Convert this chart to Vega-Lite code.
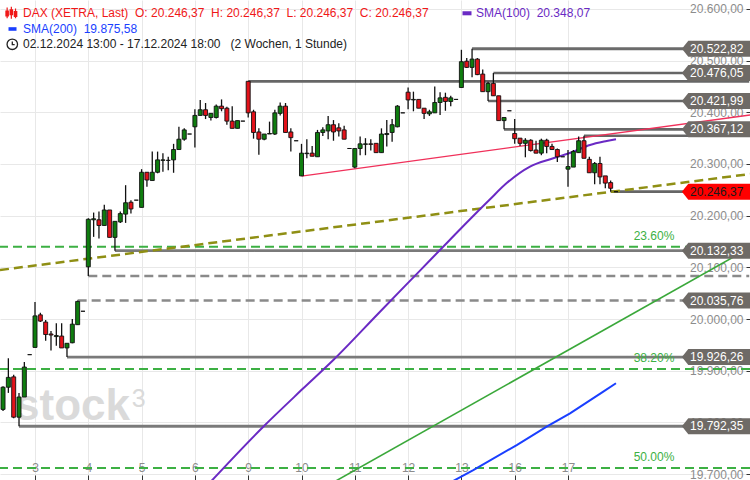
{
"$schema": "https://vega.github.io/schema/vega-lite/v6.json",
"width": 750, "height": 480, "padding": 0, "autosize": {"type": "none"},
"background": "white",
"config": {
  "view": {"stroke": null},
  "font": "Liberation Sans",
  "locale": {"number": {"decimal": ",", "thousands": ".", "grouping": [3], "currency": ["", " €"]}}
},
"datasets": {
  "candles": [
    {"i":4,"o":19825,"h":19870,"l":19822,"c":19868},
    {"i":5,"o":19868,"h":19924,"l":19857,"c":19887},
    {"i":6,"o":19888,"h":19892,"l":19808,"c":19810},
    {"i":7,"o":19810,"h":19857,"l":19792.35,"c":19849},
    {"i":8,"o":19849,"h":19917,"l":19849,"c":19907},
    {"i":9,"o":19931,"h":19931,"l":19931,"c":19931},
    {"i":10,"o":19945,"h":20033,"l":19945,"c":20006},
    {"i":11,"o":20008,"h":20012,"l":19994,"c":19996},
    {"i":12,"o":19994,"h":19998,"l":19958,"c":19970},
    {"i":13,"o":19971,"h":19977,"l":19939,"c":19969},
    {"i":14,"o":19966,"h":19992,"l":19948,"c":19968},
    {"i":15,"o":19967,"h":19992,"l":19944,"c":19944},
    {"i":16,"o":19944,"h":19953,"l":19926.26,"c":19953},
    {"i":17,"o":19954,"h":20000,"l":19953,"c":19990},
    {"i":18,"o":19989,"h":20035.76,"l":19989,"c":20034},
    {"i":19,"o":20015,"h":20015,"l":20015,"c":20015},
    {"i":20,"o":20101,"h":20195,"l":20083,"c":20193},
    {"i":21,"o":20192,"h":20206,"l":20159,"c":20194},
    {"i":22,"o":20192,"h":20208,"l":20156,"c":20181},
    {"i":23,"o":20181,"h":20221,"l":20181,"c":20211},
    {"i":24,"o":20211,"h":20211,"l":20158,"c":20158},
    {"i":25,"o":20158,"h":20189,"l":20132.33,"c":20189},
    {"i":26,"o":20188,"h":20208,"l":20186,"c":20204},
    {"i":27,"o":20203,"h":20259,"l":20186,"c":20225},
    {"i":28,"o":20226,"h":20230,"l":20204,"c":20213},
    {"i":29,"o":20230,"h":20230,"l":20230,"c":20230},
    {"i":30,"o":20216,"h":20290,"l":20216,"c":20284},
    {"i":31,"o":20284,"h":20284,"l":20256,"c":20269},
    {"i":32,"o":20268,"h":20324,"l":20268,"c":20284},
    {"i":33,"o":20284,"h":20324,"l":20282,"c":20308},
    {"i":34,"o":20307,"h":20321,"l":20285,"c":20308},
    {"i":35,"o":20307,"h":20314,"l":20288,"c":20307},
    {"i":36,"o":20308,"h":20339,"l":20283,"c":20328},
    {"i":37,"o":20328,"h":20372,"l":20328,"c":20348},
    {"i":38,"o":20348,"h":20369,"l":20345,"c":20366},
    {"i":39,"o":20358,"h":20358,"l":20358,"c":20358},
    {"i":40,"o":20372,"h":20406,"l":20332,"c":20394},
    {"i":41,"o":20394,"h":20424,"l":20394,"c":20405},
    {"i":42,"o":20405,"h":20418,"l":20387,"c":20394},
    {"i":43,"o":20390,"h":20398,"l":20384,"c":20398},
    {"i":44,"o":20390,"h":20415,"l":20388,"c":20412},
    {"i":45,"o":20412,"h":20425,"l":20402,"c":20407},
    {"i":46,"o":20408,"h":20411,"l":20376,"c":20383},
    {"i":47,"o":20383,"h":20412,"l":20369,"c":20369},
    {"i":48,"o":20369,"h":20384,"l":20369,"c":20384},
    {"i":49,"o":20383,"h":20383,"l":20383,"c":20383},
    {"i":50,"o":20460,"h":20460,"l":20390,"c":20399},
    {"i":51,"o":20401,"h":20405,"l":20349,"c":20361},
    {"i":52,"o":20362,"h":20369,"l":20318,"c":20348},
    {"i":53,"o":20348,"h":20358,"l":20346,"c":20358},
    {"i":54,"o":20358,"h":20382,"l":20358,"c":20359},
    {"i":55,"o":20358,"h":20405,"l":20356,"c":20399},
    {"i":56,"o":20398,"h":20419,"l":20394,"c":20412},
    {"i":57,"o":20412,"h":20418,"l":20361,"c":20361},
    {"i":58,"o":20362,"h":20369,"l":20324,"c":20351},
    {"i":59,"o":20345,"h":20345,"l":20345,"c":20345},
    {"i":60,"o":20277,"h":20339,"l":20276.7,"c":20321},
    {"i":61,"o":20320,"h":20348,"l":20311,"c":20321},
    {"i":62,"o":20321,"h":20335,"l":20315,"c":20315},
    {"i":63,"o":20314,"h":20366,"l":20314,"c":20361},
    {"i":64,"o":20361,"h":20371,"l":20354,"c":20366},
    {"i":65,"o":20364,"h":20393,"l":20348,"c":20376},
    {"i":66,"o":20376,"h":20385,"l":20345,"c":20362},
    {"i":67,"o":20370,"h":20379,"l":20353,"c":20364},
    {"i":68,"o":20366,"h":20374,"l":20348,"c":20348},
    {"i":69,"o":20330,"h":20330,"l":20330,"c":20330},
    {"i":70,"o":20294,"h":20330,"l":20292,"c":20330},
    {"i":71,"o":20330,"h":20353,"l":20317,"c":20339},
    {"i":72,"o":20338,"h":20350,"l":20317,"c":20339},
    {"i":73,"o":20339,"h":20348,"l":20326,"c":20338},
    {"i":74,"o":20340,"h":20340,"l":20322,"c":20322},
    {"i":75,"o":20322,"h":20369,"l":20322,"c":20358},
    {"i":76,"o":20357,"h":20385,"l":20334,"c":20359},
    {"i":77,"o":20361,"h":20387,"l":20343,"c":20376},
    {"i":78,"o":20372,"h":20414,"l":20371,"c":20412},
    {"i":79,"o":20399,"h":20399,"l":20399,"c":20399},
    {"i":80,"o":20439,"h":20448,"l":20406,"c":20424},
    {"i":81,"o":20424,"h":20440,"l":20402,"c":20425},
    {"i":82,"o":20425,"h":20425,"l":20408,"c":20408},
    {"i":83,"o":20408,"h":20408,"l":20387,"c":20398},
    {"i":84,"o":20397,"h":20405,"l":20393,"c":20401},
    {"i":85,"o":20399,"h":20450,"l":20399,"c":20419},
    {"i":86,"o":20419,"h":20439,"l":20395,"c":20428},
    {"i":87,"o":20429,"h":20438,"l":20403,"c":20421},
    {"i":88,"o":20421,"h":20432,"l":20412,"c":20428},
    {"i":89,"o":20425,"h":20425,"l":20425,"c":20425},
    {"i":90,"o":20448,"h":20521,"l":20448,"c":20498},
    {"i":91,"o":20499,"h":20505,"l":20486,"c":20487},
    {"i":92,"o":20487,"h":20522.82,"l":20468,"c":20503},
    {"i":93,"o":20503,"h":20505,"l":20472,"c":20473},
    {"i":94,"o":20474,"h":20483,"l":20440,"c":20440},
    {"i":95,"o":20440,"h":20459,"l":20421.99,"c":20456},
    {"i":96,"o":20456,"h":20476.05,"l":20432,"c":20432},
    {"i":97,"o":20432,"h":20432,"l":20384,"c":20384},
    {"i":98,"o":20384,"h":20390,"l":20367.12,"c":20390},
    {"i":99,"o":20403,"h":20403,"l":20403,"c":20403},
    {"i":100,"o":20359,"h":20387,"l":20339,"c":20349},
    {"i":101,"o":20350,"h":20350,"l":20335,"c":20340},
    {"i":102,"o":20340,"h":20350,"l":20313,"c":20346},
    {"i":103,"o":20346,"h":20348,"l":20324,"c":20326},
    {"i":104,"o":20327,"h":20345,"l":20321,"c":20321},
    {"i":105,"o":20321,"h":20349,"l":20317,"c":20346},
    {"i":106,"o":20346,"h":20349,"l":20321,"c":20334},
    {"i":107,"o":20334,"h":20339,"l":20327,"c":20328},
    {"i":108,"o":20328,"h":20330,"l":20304,"c":20314},
    {"i":109,"o":20314,"h":20314,"l":20314,"c":20314},
    {"i":110,"o":20290,"h":20327,"l":20256,"c":20295},
    {"i":111,"o":20294,"h":20327,"l":20294,"c":20324},
    {"i":112,"o":20322,"h":20353,"l":20322,"c":20345},
    {"i":113,"o":20345,"h":20354.7,"l":20311,"c":20311},
    {"i":114,"o":20309,"h":20314,"l":20283,"c":20283},
    {"i":115,"o":20283,"h":20304,"l":20261,"c":20301},
    {"i":116,"o":20301,"h":20314,"l":20261,"c":20275},
    {"i":117,"o":20277,"h":20277,"l":20253,"c":20263},
    {"i":118,"o":20264,"h":20268,"l":20246.37,"c":20253},
    {"i":119,"o":20246.37,"h":20246.37,"l":20246.37,"c":20246.37}
  ],
  "levels": [
    {"p":20522.82,"s":92,"kind":"thick","tag":"level"},
    {"p":20476.05,"s":96,"kind":"thin","tag":"level"},
    {"p":20460.0,"s":50,"kind":"thin","tag":"none"},
    {"p":20421.99,"s":95,"kind":"thin","tag":"level"},
    {"p":20367.12,"s":98,"kind":"thin","tag":"level"},
    {"p":20354.7,"s":113,"kind":"thin","tag":"none"},
    {"p":20246.37,"s":118,"kind":"thin","tag":"last"},
    {"p":20132.33,"s":25,"kind":"medium","tag":"level"},
    {"p":20083.0,"s":20,"kind":"dashed","tag":"none"},
    {"p":20035.76,"s":18,"kind":"dashed","tag":"level"},
    {"p":19926.26,"s":16,"kind":"medium","tag":"level"},
    {"p":19792.35,"s":7,"kind":"medium","tag":"level"}
  ],
  "fibs": [
    {"p":20139.9,"label":"23.60%"},
    {"p":19903.0,"label":"38.20%"},
    {"p":19711.6,"label":"50.00%"}
  ],
  "sma100": [
    {"i":41.52,"v":19669.0},{"i":52.83,"v":19791.5},{"i":60.34,"v":19865.8},{"i":65.97,"v":19920.6},
    {"i":74.73,"v":20014.1},{"i":82.23,"v":20093.7},{"i":87.86,"v":20153.5},{"i":91.61,"v":20193.1},
    {"i":95.23,"v":20230.3},{"i":98.5,"v":20263.0},{"i":102.87,"v":20295.0},{"i":107.24,"v":20311.0},
    {"i":110.99,"v":20323.8},{"i":114.12,"v":20336.7},{"i":117.26,"v":20344.5},{"i":119.0,"v":20348.07}
  ],
  "sma200": [
    {"i":85.98,"v":19672.5},{"i":92.23,"v":19707.7},{"i":100.38,"v":19756.1},{"i":106.0,"v":19791.5},
    {"i":110.38,"v":19817.5},{"i":116.62,"v":19859.3},{"i":119.0,"v":19875.58}
  ],
  "olive": [{"i":3.43,"v":20094.8},{"i":144.15,"v":20280.6}],
  "redline": [{"i":60.0,"v":20276.7},{"i":144.15,"v":20394.8}],
  "greenline": [{"i":59.72,"v":19647.5},{"i":144.15,"v":20138.0}]
},
"layer": [
  {
    "data": {"values": [{}]},
    "mark": {"type": "text", "text": "stock", "fontSize": 44, "fontWeight": "bold", "color": "#dadada", "align": "left", "baseline": "alphabetic"},
    "encoding": {
      "x": {"datum": 6.25, "type": "quantitative",
        "scale": {"domain": [3.433, 144.146], "nice": false, "zero": false, "padding": 0},
        "axis": {"orient": "top", "offset": -480, "values": [10,20,30,40,50,60,70,80,90,100,110],
          "labelExpr": "['2','3','4','5','6','9','10','11','12','13','16','17'][datum.value/10]",
          "tickSize": 5, "labelPadding": 1, "labelColor": "#8c8c8c", "labelFontSize": 12, "labelFont": "Liberation Sans",
          "tickColor": "#333333", "domain": false, "grid": true, "gridColor": "#e8e8e8", "title": null, "labelOverlap": false, "labelFlush": false}},
      "y": {"datum": 19804.5, "type": "quantitative",
        "scale": {"domain": [19688.4, 20617.4], "nice": false, "zero": false, "padding": 0},
        "axis": {"orient": "left", "offset": -750, "values": [19700,19800,19900,20000,20100,20200,20300,20400,20500,20600],
          "format": ",.2f", "tickSize": 4, "labelPadding": 3, "labelColor": "#8c8c8c", "labelFontSize": 12, "labelFont": "Liberation Sans",
          "tickColor": "#333333", "domain": false, "grid": true, "gridColor": "#e8e8e8", "title": null, "labelOverlap": false, "labelFlush": false, "labelBound": false}}
    }
  },
  {
    "data": {"values": [{}]},
    "mark": {"type": "text", "text": "3", "fontSize": 25, "color": "#dadada", "align": "left", "baseline": "alphabetic"},
    "encoding": {"x": {"datum": 28.14, "type": "quantitative"}, "y": {"datum": 19830.2, "type": "quantitative"}}
  },
  {
    "data": {"name": "fibs"},
    "mark": {"type": "rule", "color": "#3cb043", "strokeWidth": 2, "strokeDash": [9, 5]},
    "encoding": {"y": {"field": "p", "type": "quantitative", "title": null}}
  },
  {
    "data": {"name": "levels"},
    "mark": {"type": "rule"},
    "encoding": {
      "x": {"field": "s", "type": "quantitative", "title": null},
      "x2": {"datum": 144},
      "y": {"field": "p", "type": "quantitative", "title": null},
      "strokeWidth": {"field": "kind", "type": "nominal", "legend": null, "scale": {"domain": ["thick","medium","thin","dashed"], "range": [3, 2.5, 1, 2.5]}},
      "strokeDash": {"field": "kind", "type": "nominal", "legend": null, "scale": {"domain": ["thick","medium","thin","dashed"], "range": [[1,0],[1,0],[1,0],[9,5]]}},
      "color": {"field": "kind", "type": "nominal", "legend": null, "scale": {"domain": ["thick","medium","thin","dashed"], "range": ["#6b6b6b","#7a7a7a","#666666","#8a8a8a"]}}
    }
  },
  {
    "data": {"name": "olive"},
    "mark": {"type": "line", "color": "#8f8f14", "strokeWidth": 2.5, "strokeDash": [9, 5], "clip": true},
    "encoding": {"x": {"field": "i", "type": "quantitative", "title": null}, "y": {"field": "v", "type": "quantitative", "title": null}}
  },
  {
    "data": {"name": "greenline"},
    "mark": {"type": "line", "color": "#3aa83a", "strokeWidth": 1.6, "clip": true},
    "encoding": {"x": {"field": "i", "type": "quantitative", "title": null}, "y": {"field": "v", "type": "quantitative", "title": null}}
  },
  {
    "data": {"name": "sma100"},
    "mark": {"type": "line", "color": "#6a2ac4", "strokeWidth": 2, "clip": true, "interpolate": "monotone"},
    "encoding": {"x": {"field": "i", "type": "quantitative", "title": null}, "y": {"field": "v", "type": "quantitative", "title": null}}
  },
  {
    "data": {"name": "sma200"},
    "mark": {"type": "line", "color": "#1a3fff", "strokeWidth": 2, "clip": true},
    "encoding": {"x": {"field": "i", "type": "quantitative", "title": null}, "y": {"field": "v", "type": "quantitative", "title": null}}
  },
  {
    "data": {"name": "redline"},
    "mark": {"type": "line", "color": "#f0305a", "strokeWidth": 1.3, "clip": true},
    "encoding": {"x": {"field": "i", "type": "quantitative", "title": null}, "y": {"field": "v", "type": "quantitative", "title": null}}
  },
  {
    "data": {"name": "candles"},
    "mark": {"type": "rule", "color": "#111111", "strokeWidth": 1.3},
    "encoding": {
      "x": {"field": "i", "type": "quantitative", "title": null},
      "y": {"field": "l", "type": "quantitative", "title": null},
      "y2": {"field": "h"}
    }
  },
  {
    "data": {"name": "candles"},
    "mark": {"type": "bar", "size": 4, "stroke": "#111111", "strokeWidth": 0.9, "orient": "vertical"},
    "encoding": {
      "x": {"field": "i", "type": "quantitative", "title": null},
      "y": {"field": "o", "type": "quantitative", "title": null},
      "y2": {"field": "c"},
      "color": {"condition": {"test": "datum.c < datum.o", "value": "#e3121a"}, "value": "#0f7d0f"}
    }
  },
  {
    "data": {"name": "fibs"},
    "mark": {"type": "text", "color": "#3cb043", "fontSize": 12, "align": "center", "baseline": "middle", "dy": -11},
    "encoding": {
      "x": {"datum": 126.13, "type": "quantitative"},
      "y": {"field": "p", "type": "quantitative", "title": null},
      "text": {"field": "label"}
    }
  },
  {
    "data": {"name": "levels"},
    "transform": [{"filter": "datum.tag !== 'none'"}],
    "mark": {"type": "point", "shape": "M-0.8,0L0,-1L7.9,-1L7.9,1L0,1Z", "size": 256, "filled": true, "opacity": 1, "strokeWidth": 0},
    "encoding": {
      "x": {"datum": 132.57, "type": "quantitative"},
      "y": {"field": "p", "type": "quantitative", "title": null},
      "color": {"condition": {"test": "datum.tag === 'last'", "value": "#ff0000"}, "value": "#6e6a66"}
    }
  },
  {
    "data": {"name": "levels"},
    "transform": [{"filter": "datum.tag !== 'none'"}],
    "mark": {"type": "text", "fontSize": 12, "align": "left", "baseline": "middle"},
    "encoding": {
      "x": {"datum": 132.89, "type": "quantitative"},
      "y": {"field": "p", "type": "quantitative", "title": null},
      "text": {"field": "p", "type": "quantitative", "format": ",.2f"},
      "color": {"condition": {"test": "datum.tag === 'last'", "value": "#1a1a1a"}, "value": "#ffffff"}
    }
  },
  {
    "data": {"values": [{}]},
    "mark": {"type": "point", "shape": "M-0.7,-0.9V0.9M0,-1V1M0.7,-0.7V0.9M-0.9,-0.3H-0.5V0.5H-0.9ZM-0.2,-0.5H0.2V0.3H-0.2ZM0.5,-0.2H0.9V0.6H0.5Z", "size": 144, "filled": false, "color": "#f01818", "strokeWidth": 1.2, "opacity": 1},
    "encoding": {"x": {"datum": 5.56, "type": "quantitative"}, "y": {"datum": 20592.6, "type": "quantitative"}}
  },
  {
    "data": {"values": [{}]},
    "mark": {"type": "text", "text": "DAX (XETRA, Last) \u00a0O: 20.246,37 \u00a0H: 20.246,37 \u00a0L: 20.246,37 \u00a0C: 20.246,37", "fontSize": 12, "color": "#f01818", "align": "left", "baseline": "middle"},
    "encoding": {"x": {"datum": 7.75, "type": "quantitative"}, "y": {"datum": 20591.7, "type": "quantitative"}}
  },
  {
    "data": {"values": [{}]},
    "mark": {"type": "point", "shape": "M-1,-0.45H1V0.45H-1Z", "size": 81, "filled": true, "color": "#6a2ac4", "opacity": 1},
    "encoding": {"x": {"datum": 91.05, "type": "quantitative"}, "y": {"datum": 20591.7, "type": "quantitative"}}
  },
  {
    "data": {"values": [{}]},
    "mark": {"type": "text", "text": "SMA(100) \u00a020.348,07", "fontSize": 12, "color": "#6a2ac4", "align": "left", "baseline": "middle"},
    "encoding": {"x": {"datum": 92.74, "type": "quantitative"}, "y": {"datum": 20591.7, "type": "quantitative"}}
  },
  {
    "data": {"values": [{}]},
    "mark": {"type": "point", "shape": "M-1,-0.45H1V0.45H-1Z", "size": 64, "filled": true, "color": "#1a3fff", "opacity": 1},
    "encoding": {"x": {"datum": 5.78, "type": "quantitative"}, "y": {"datum": 20561.3, "type": "quantitative"}}
  },
  {
    "data": {"values": [{}]},
    "mark": {"type": "text", "text": "SMA(200) \u00a019.875,58", "fontSize": 12, "color": "#1a3fff", "align": "left", "baseline": "middle"},
    "encoding": {"x": {"datum": 7.75, "type": "quantitative"}, "y": {"datum": 20561.3, "type": "quantitative"}}
  },
  {
    "data": {"values": [{}]},
    "mark": {"type": "point", "shape": "M1,0A1,1 0 1,1 -1,0A1,1 0 1,1 1,0ZM0,-0.55V0.05H0.45", "size": 110, "filled": false, "color": "#222222", "strokeWidth": 1.3, "opacity": 1},
    "encoding": {"x": {"datum": 5.74, "type": "quantitative"}, "y": {"datum": 20531.7, "type": "quantitative"}}
  },
  {
    "data": {"values": [{}]},
    "mark": {"type": "text", "text": "02.12.2024 13:00 - 17.12.2024 18:00 \u00a0\u00a0(2 Wochen, 1 Stunde)", "fontSize": 12, "color": "#222222", "align": "left", "baseline": "middle"},
    "encoding": {"x": {"datum": 7.75, "type": "quantitative"}, "y": {"datum": 20531.7, "type": "quantitative"}}
  }
]
}
